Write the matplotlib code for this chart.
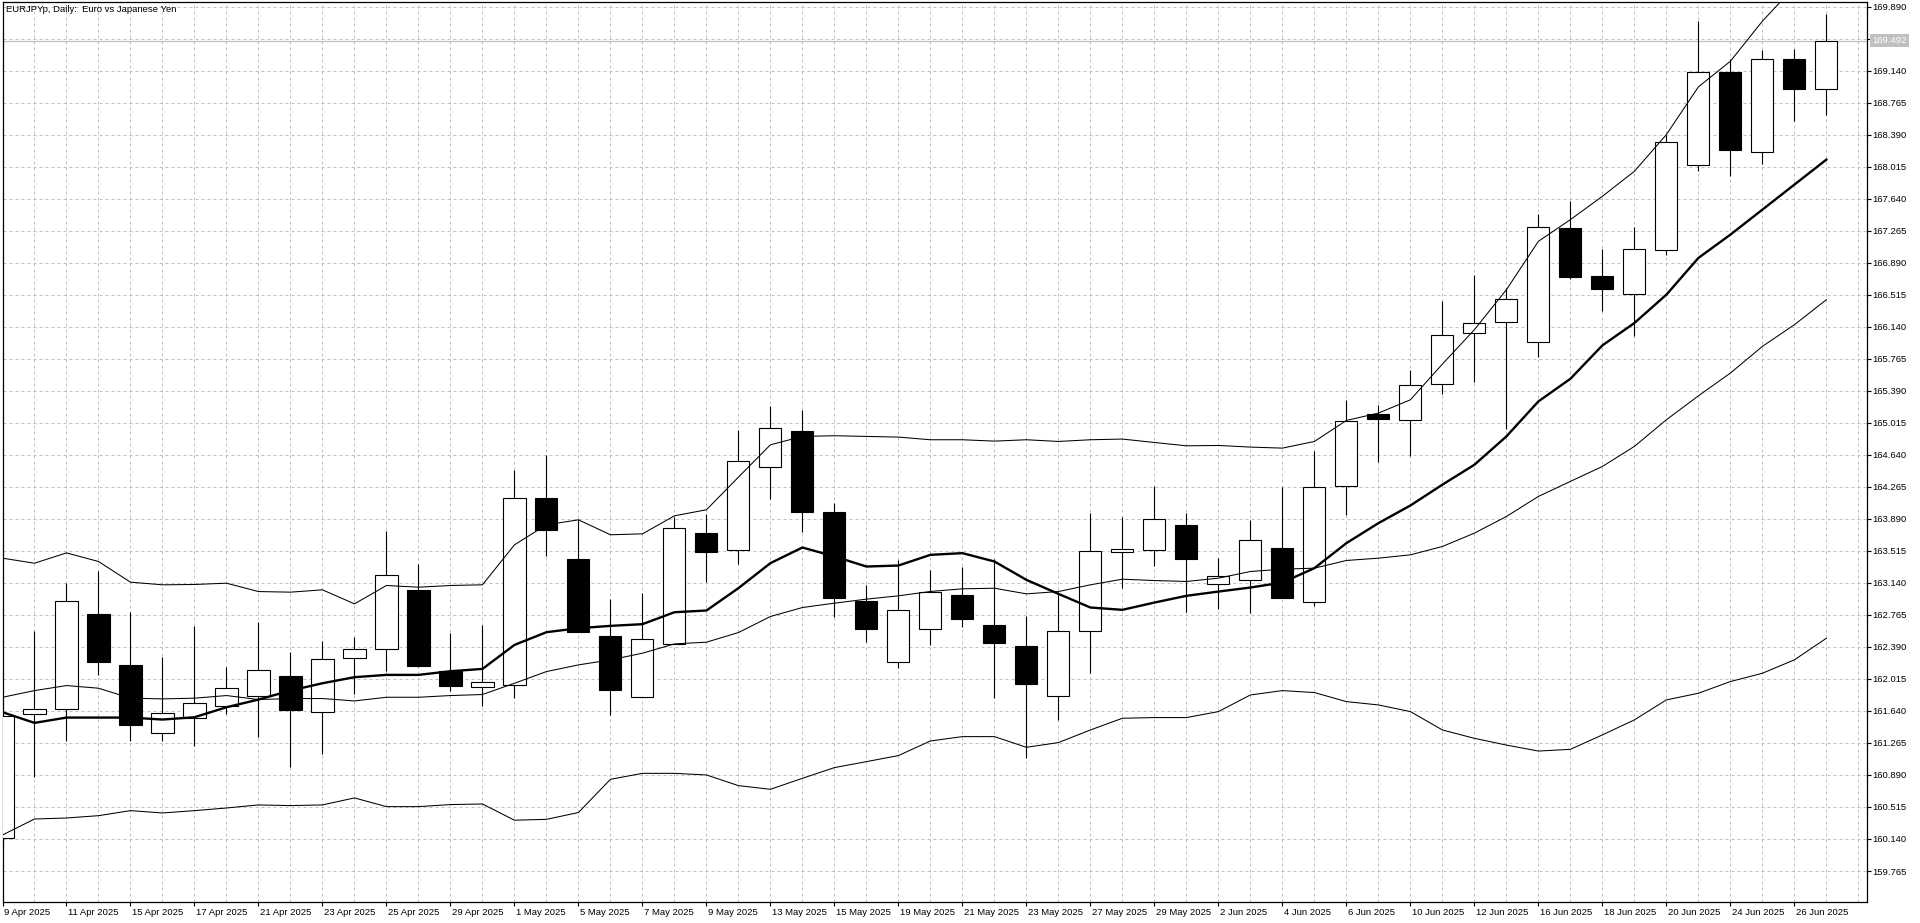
import matplotlib.pyplot as plt
import matplotlib.transforms as mtransforms
import numpy as np

plt.rcParams['font.family'] = ['Liberation Sans', 'DejaVu Sans']

title = "EURJPYp, Daily:  Euro vs Japanese Yen"
last_price = 169.492

# one label every second daily bar (9 Apr .. 26 Jun 2025)
date_labels = ["9 Apr 2025", "11 Apr 2025", "15 Apr 2025", "17 Apr 2025", "21 Apr 2025",
               "23 Apr 2025", "25 Apr 2025", "29 Apr 2025", "1 May 2025", "5 May 2025",
               "7 May 2025", "9 May 2025", "13 May 2025", "15 May 2025", "19 May 2025",
               "21 May 2025", "23 May 2025", "27 May 2025", "29 May 2025", "2 Jun 2025",
               "4 Jun 2025", "6 Jun 2025", "10 Jun 2025", "12 Jun 2025", "16 Jun 2025",
               "18 Jun 2025", "20 Jun 2025", "24 Jun 2025", "26 Jun 2025"]

price_ticks = [169.890, 169.515, 169.140, 168.765, 168.390, 168.015, 167.640, 167.265,
               166.890, 166.515, 166.140, 165.765, 165.390, 165.015, 164.640, 164.265,
               163.890, 163.515, 163.140, 162.765, 162.390, 162.015, 161.640, 161.265,
               160.890, 160.515, 160.140, 159.765]

opens = [160.148, 161.605, 161.664, 162.777, 162.183, 161.382, 161.558, 161.695, 161.812, 162.054,
         161.625, 162.261, 162.367, 163.062, 162.105, 161.925, 161.941, 164.132, 163.421, 162.519,
         161.808, 162.425, 163.726, 163.523, 164.495, 164.921, 163.968, 162.929, 162.218, 162.597,
         163.000, 162.648, 162.402, 161.816, 162.577, 163.507, 163.523, 163.820, 163.124, 163.171,
         163.546, 162.913, 164.269, 165.120, 165.046, 165.468, 166.066, 166.195, 165.960, 167.296,
         166.738, 166.523, 167.042, 168.038, 169.128, 168.187, 169.277, 168.925]
highs = [161.620, 162.581, 163.136, 163.273, 162.804, 162.277, 162.640, 162.160, 162.679, 162.328,
         162.464, 162.503, 163.753, 163.355, 162.550, 162.652, 164.464, 164.640, 163.890, 162.953,
         163.019, 163.917, 163.949, 164.925, 165.214, 165.167, 164.074, 163.117, 163.402, 163.292,
         163.320, 163.417, 162.753, 163.038, 163.956, 163.917, 164.269, 163.956, 163.429, 163.878,
         164.261, 164.687, 165.284, 165.218, 165.636, 166.437, 166.749, 166.593, 167.464, 167.617,
         167.054, 167.308, 168.390, 169.718, 169.277, 169.386, 169.394, 169.808]
lows = [160.120, 160.863, 161.293, 162.066, 161.285, 161.293, 161.234, 161.605, 161.332, 160.980,
        161.136, 161.839, 162.113, 162.160, 161.878, 161.695, 161.796, 163.449, 162.560, 161.593,
        161.800, 162.420, 163.148, 163.363, 164.124, 163.730, 162.745, 162.453, 162.140, 162.414,
        162.620, 161.788, 161.085, 161.534, 162.089, 163.077, 163.339, 162.804, 162.831, 162.792,
        162.960, 162.874, 163.937, 164.550, 164.620, 165.351, 165.488, 164.941, 165.780, 166.699,
        166.320, 166.027, 166.984, 167.960, 167.902, 168.046, 168.546, 168.617]
closes = [161.585, 161.664, 162.933, 162.210, 161.472, 161.617, 161.734, 161.910, 162.121, 161.656,
          162.250, 162.367, 163.234, 162.164, 161.929, 161.976, 164.132, 163.761, 162.570, 161.886,
          162.480, 163.781, 163.507, 164.566, 164.953, 163.964, 162.960, 162.597, 162.820, 163.031,
          162.714, 162.433, 161.952, 162.577, 163.515, 163.534, 163.886, 163.417, 163.226, 163.640,
          162.968, 164.261, 165.038, 165.058, 165.456, 166.042, 166.183, 166.464, 167.308, 166.722,
          166.581, 167.050, 168.304, 169.128, 168.214, 169.277, 168.925, 169.492]

ma_fast = [161.625, 161.500, 161.562, 161.562, 161.562, 161.539, 161.566, 161.683, 161.773, 161.878,
           161.964, 162.035, 162.062, 162.062, 162.105, 162.132, 162.413, 162.562, 162.609, 162.636,
           162.656, 162.796, 162.816, 163.078, 163.371, 163.554, 163.449, 163.331, 163.343, 163.468,
           163.488, 163.390, 163.175, 163.011, 162.851, 162.824, 162.909, 162.988, 163.038, 163.085,
           163.144, 163.312, 163.605, 163.839, 164.046, 164.290, 164.523, 164.855, 165.265, 165.530,
           165.921, 166.183, 166.515, 166.945, 167.218, 167.511, 167.804, 168.097]
bb_upper = [163.429, 163.370, 163.491, 163.390, 163.148, 163.117, 163.121, 163.136, 163.038, 163.031,
            163.058, 162.894, 163.109, 163.089, 163.109, 163.117, 163.585, 163.820, 163.878, 163.703,
            163.714, 163.925, 163.996, 164.378, 164.757, 164.855, 164.863, 164.855, 164.847, 164.816,
            164.816, 164.800, 164.816, 164.796, 164.816, 164.824, 164.784, 164.745, 164.749, 164.730,
            164.718, 164.796, 165.042, 165.128, 165.284, 165.702, 166.105, 166.573, 167.140, 167.394,
            167.667, 167.960, 168.390, 168.949, 169.249, 169.718, 170.120, 170.480]
bb_mid = [161.800, 161.878, 161.937, 161.906, 161.789, 161.781, 161.789, 161.820, 161.773, 161.785,
          161.785, 161.757, 161.800, 161.800, 161.820, 161.832, 161.964, 162.101, 162.179, 162.238,
          162.316, 162.425, 162.445, 162.558, 162.746, 162.851, 162.902, 162.949, 162.988, 163.039,
          163.070, 163.077, 163.011, 163.038, 163.117, 163.183, 163.167, 163.156, 163.195, 163.273,
          163.300, 163.312, 163.402, 163.429, 163.468, 163.566, 163.722, 163.917, 164.152, 164.328,
          164.503, 164.738, 165.050, 165.330, 165.597, 165.909, 166.163, 166.456]
bb_lower = [160.187, 160.374, 160.386, 160.413, 160.472, 160.445, 160.472, 160.503, 160.539, 160.531,
            160.539, 160.621, 160.519, 160.519, 160.543, 160.550, 160.360, 160.370, 160.450, 160.839,
            160.909, 160.909, 160.890, 160.765, 160.722, 160.851, 160.976, 161.046, 161.117, 161.288,
            161.339, 161.339, 161.214, 161.269, 161.417, 161.554, 161.562, 161.562, 161.632, 161.827,
            161.878, 161.855, 161.749, 161.710, 161.632, 161.417, 161.319, 161.240, 161.170, 161.190,
            161.359, 161.535, 161.769, 161.847, 161.984, 162.081, 162.238, 162.491]

grid_col = '#c0c0c0'
fs = 6.8

o = np.array(opens)
h = np.array(highs)
l = np.array(lows)
c = np.array(closes)
x = np.arange(len(o))
up = c >= o

fig = plt.figure(figsize=(19.2, 9.23), dpi=100)
ax = fig.add_axes([2.5 / 1920, 21 / 923, 1864.5 / 1920, 900 / 923])
ax.set_xlim(0, 58.27)
ax.set_ylim(159.402, 169.943)

# dashed grid: every bar, every price step
for i in range(1, 59):
    ax.axvline(i, color=grid_col, lw=0.72, ls=(0, (3, 3)), zorder=0)
for p in price_ticks:
    ax.axhline(p, color=grid_col, lw=0.72, ls=(0, (3, 3)), zorder=0)

ax.axhline(last_price, color=grid_col, lw=0.9, zorder=1)

# candles
ax.vlines(x, l, h, color='black', lw=0.8, zorder=3)
ax.bar(x, np.abs(c - o), width=0.69, bottom=np.minimum(o, c),
       color=np.where(up, 'white', 'black'), edgecolor='black', linewidth=0.8, zorder=4)

# bollinger bands + fast average
for band in (bb_upper, bb_mid, bb_lower):
    ax.plot(x, band, color='black', lw=0.75, zorder=5)
ax.plot(x, ma_fast, color='black', lw=1.7, zorder=6)

for side in ['left', 'right', 'top', 'bottom']:
    ax.spines[side].set_linewidth(0.9)
    ax.spines[side].set_color('black')

ax.yaxis.tick_right()
ax.set_yticks(price_ticks)
ax.set_yticklabels([f"{p:.3f}" if abs(p - 169.515) > 1e-6 else "" for p in price_ticks])
ax.set_xticks(range(0, 57, 2))
ax.set_xticklabels(date_labels, ha='left')
ax.tick_params(axis='y', length=3, width=0.8, pad=1, labelsize=fs)
ax.tick_params(axis='x', length=3, width=0.8, pad=1.5, labelsize=fs)

offset = mtransforms.ScaledTranslation(1.5 / 100, 0, fig.dpi_scale_trans)
for lab in ax.get_xticklabels():
    lab.set_transform(lab.get_transform() + offset)

# current price tag on the price scale
trans = mtransforms.blended_transform_factory(ax.transAxes, ax.transData)
ax.text(1 + 5 / 1864.5, last_price, f"{last_price:.3f}", transform=trans, ha='left', va='center',
        color='white', fontsize=fs, clip_on=False,
        bbox=dict(boxstyle='square,pad=0.25', fc=grid_col, ec='none'))

ax.annotate(title, xy=(0, 1), xycoords='axes fraction', xytext=(4, -3),
            textcoords='offset pixels', ha='left', va='top', fontsize=fs)

fig.savefig('out.png', dpi=100)
